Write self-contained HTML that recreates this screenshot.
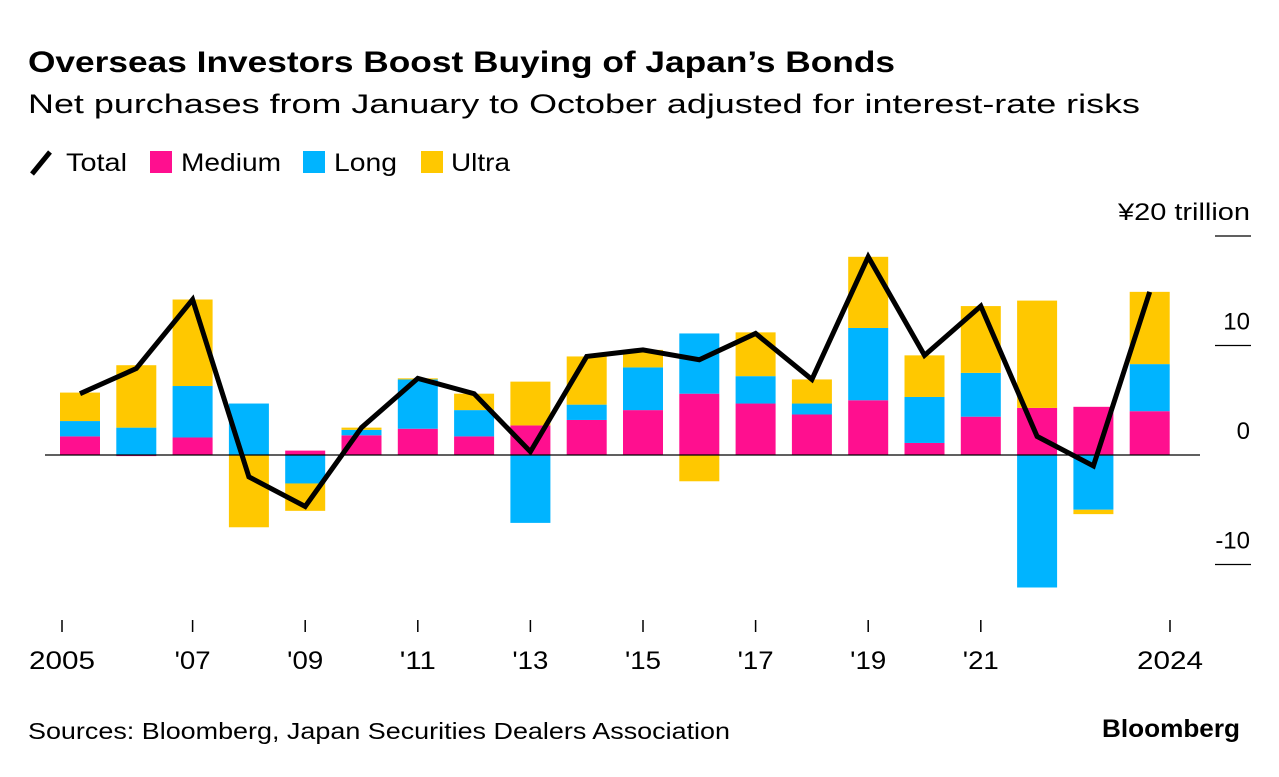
<!DOCTYPE html>
<html><head><meta charset="utf-8"><style>
body{margin:0;background:#fff;font-family:"Liberation Sans",sans-serif;}
</style></head><body>
<svg width="1279" height="772" xmlns="http://www.w3.org/2000/svg" font-family="Liberation Sans, sans-serif">
<text x="28" y="72" font-size="30" font-weight="bold" fill="#000" textLength="867" lengthAdjust="spacingAndGlyphs">Overseas Investors Boost Buying of Japan’s Bonds</text>
<text x="28" y="113" font-size="27" fill="#000" textLength="1112" lengthAdjust="spacingAndGlyphs">Net purchases from January to October adjusted for interest-rate risks</text>
<g>
<line x1="32" y1="174" x2="50" y2="152" stroke="#000" stroke-width="5"/>
<text x="66" y="171" font-size="25" textLength="61" lengthAdjust="spacingAndGlyphs">Total</text>
<rect x="150" y="151" width="22" height="22" fill="#ff0f8f"/>
<text x="181" y="171" font-size="25" textLength="100" lengthAdjust="spacingAndGlyphs">Medium</text>
<rect x="303" y="151" width="22" height="22" fill="#00b4ff"/>
<text x="334" y="171" font-size="25" textLength="63" lengthAdjust="spacingAndGlyphs">Long</text>
<rect x="421" y="151" width="22" height="22" fill="#ffc800"/>
<text x="451" y="171" font-size="25" textLength="59" lengthAdjust="spacingAndGlyphs">Ultra</text>
</g>
<g id="plot"></g>
<text x="28" y="739" font-size="23" textLength="702" lengthAdjust="spacingAndGlyphs">Sources: Bloomberg, Japan Securities Dealers Association</text>
<text x="1240" y="737" font-size="25" font-weight="bold" text-anchor="end" textLength="138" lengthAdjust="spacingAndGlyphs">Bloomberg</text>
</svg>
<script>
const years=[2005,2006,2007,2008,2009,2010,2011,2012,2013,2014,2015,2016,2017,2018,2019,2020,2021,2022,2023,2024];
const medium=[1.7,-0.1,1.6,0,0.4,1.8,2.4,1.7,2.7,3.2,4.1,5.6,4.7,3.7,5.0,1.1,3.5,4.3,4.4,4.0];
const longB=[1.4,2.5,4.7,4.7,-2.6,0.5,4.5,2.4,-6.2,1.4,3.9,5.5,2.5,1.0,6.6,4.2,4.0,-12.1,-5.0,4.3];
const ultra=[2.6,5.7,7.9,-6.6,-2.5,0.2,0.1,1.5,4.0,4.4,1.6,-2.4,4.0,2.2,6.5,3.8,6.1,9.8,-0.4,6.6];
const total=[5.6,7.9,14.2,-2.0,-4.7,2.5,7.0,5.6,0.3,9.0,9.6,8.7,11.1,6.9,18.1,9.1,13.6,1.7,-1.0,14.9];
const yTicks=[20,10,0,-10];
const yTickLabels=["¥20 trillion","10","0","-10"];
const xTickYears=[2005,2007,2009,2011,2013,2015,2017,2019,2021,2024];
const xTickLabels=["2005","'07","'09","'11","'13","'15","'17","'19","'21","2024"];
const NS="http://www.w3.org/2000/svg";
const g=document.getElementById('plot');
const y=v=>455-v*10.95;
const xb=yr=>80+(yr-2005)*56.3;
const xt=yr=>yr===2005?62:(yr===2024?1170:xb(yr));
function mk(t,a){const e=document.createElementNS(NS,t);for(const k in a)e.setAttribute(k,a[k]);g.appendChild(e);return e;}
yTicks.forEach((v,i)=>{
 if(v!==0){const l=mk('line',{x1:1215,x2:1251,y1:y(v),y2:y(v),stroke:'#000','stroke-width':1.2});
 
 }
 const a={x:1250,y:y(v)-16,'font-size':24,'text-anchor':'end'};
 if(i===0){a.textLength=132;a.lengthAdjust='spacingAndGlyphs';}
 const t=mk('text',a);t.textContent=yTickLabels[i];
 
 
});
const cols=['#ff0f8f','#00b4ff','#ffc800'];
years.forEach((yr,i)=>{
 let pos=0,neg=0;
 [medium[i],longB[i],ultra[i]].forEach((v,k)=>{
  let a,b;
  if(v>=0){a=pos;b=pos+v;pos=b;}else{a=neg;b=neg+v;neg=b;}
  const r=mk('rect',{x:xb(yr)-20,width:40,y:Math.min(y(a),y(b)),height:Math.abs(y(a)-y(b)),fill:cols[k]});
  
  
 });
});
const z=mk('line',{x1:45,x2:1200,y1:y(0),y2:y(0),stroke:'#000','stroke-width':1.2});


const p=mk('polyline',{points:years.map((yr,i)=>xb(yr)+','+y(total[i])).join(' '),fill:'none',stroke:'#000','stroke-width':5,'stroke-linejoin':'miter'});


xTickYears.forEach((yr,i)=>{
 const l=mk('line',{x1:xt(yr),x2:xt(yr),y1:620,y2:632,stroke:'#000','stroke-width':1.5});
 
 
 const lbl=xTickLabels[i];
 const t=mk('text',{x:xt(yr),y:669,'font-size':25,'text-anchor':'middle',textLength:lbl.length===4?66:36,lengthAdjust:'spacingAndGlyphs'});t.textContent=lbl;
 
 
});
</script>
</body></html>
